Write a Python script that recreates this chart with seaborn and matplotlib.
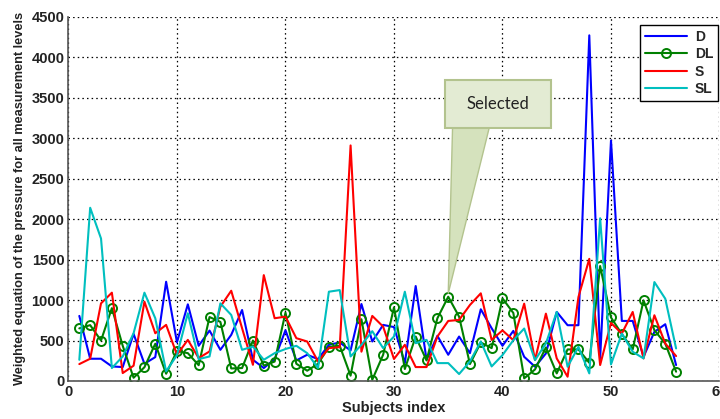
import matplotlib
matplotlib.use("Agg")
import matplotlib.pyplot as plt
import seaborn as sns
import numpy as np
from matplotlib.patches import Rectangle, Polygon

subjects = list(range(1, 57))

D = [804, 275, 275, 180, 172, 582, 213, 295, 1226, 478,
     947, 435, 623, 385, 570, 877, 262, 160, 270, 627,
     254, 324, 270, 447, 476, 377, 951, 488, 693, 666,
     221, 1173, 262, 558, 324, 549, 344, 886, 652, 435,
     619, 299, 176, 340, 853, 689, 689, 4270, 280, 2970,
     742, 742, 299, 607, 701, 197]

DL = [650, 690, 500, 900, 435, 40, 170, 460, 90, 370,
      344, 195, 790, 730, 155, 160, 500, 190, 240, 845,
      213, 127, 213, 420, 435, 66, 763, 16, 324, 910,
      148, 549, 254, 775, 1041, 795, 209, 476, 406, 1020,
      840, 33, 143, 414, 94, 390, 390, 225, 1420, 785,
      580, 390, 996, 627, 463, 115]

S = [209, 275, 959, 1091, 98, 189, 980, 590, 693, 324,
     508, 283, 365, 918, 1115, 652, 200, 1308, 775, 795,
     529, 488, 242, 406, 418, 2910, 362, 804, 672, 272,
     447, 172, 172, 549, 742, 754, 939, 1083, 508, 625,
     504, 955, 258, 832, 279, 53, 1037, 1509, 197, 717,
     586, 853, 279, 812, 463, 308]

SL = [262, 2140, 1760, 160, 303, 590, 1091, 775, 119, 320,
      836, 270, 303, 959, 816, 385, 426, 262, 344, 395,
      435, 344, 160, 1103, 1123, 303, 447, 615, 406, 550,
      1103, 467, 508, 221, 221, 86, 242, 488, 180, 320,
      504, 648, 258, 463, 853, 176, 422, 94, 2010, 205,
      586, 361, 279, 1222, 1017, 402]

series_names = ["D", "DL", "S", "SL"]
y_ticks = list(range(0, 5000, 500))
x_ticks = list(range(0, 70, 10))

sns.set_style("white")
plt.rcParams["font.family"] = ["Liberation Sans", "DejaVu Sans"]

fig = plt.figure(figsize=(7.2, 4.19), dpi=100)
ax = fig.add_axes([0.0951, 0.0907, 0.9042, 0.8694])

lw = 1.5
sns.lineplot(x=subjects, y=D, color="#0000ff", lw=lw, label="D", ax=ax)
sns.lineplot(x=subjects, y=DL, color="#008000", lw=lw, label="DL", ax=ax,
             marker="o", markersize=6.5, markerfacecolor="none",
             markeredgecolor="#008000", markeredgewidth=1.4)
sns.lineplot(x=subjects, y=S, color="#ff0000", lw=lw, label="S", ax=ax)
sns.lineplot(x=subjects, y=SL, color="#00bfbf", lw=lw, label="SL", ax=ax)

ax.set_xlim(0, 60)
ax.set_ylim(0, 4500)
ax.set_xticks(x_ticks)
ax.set_yticks(y_ticks)
ax.grid(True, color="black", linestyle=(0, (1.2, 2.5)), linewidth=0.9)
ax.set_axisbelow(True)

for side in ["top", "right"]:
    ax.spines[side].set_visible(False)
for side in ["left", "bottom"]:
    ax.spines[side].set_color("#555555")
    ax.spines[side].set_linewidth(1.2)

ax.tick_params(axis="both", direction="in", length=3, width=0.8,
               labelsize=10.5, pad=3, colors="#222222")
for lab in ax.get_xticklabels() + ax.get_yticklabels():
    lab.set_fontweight("bold")
    lab.set_color("#222222")

ax.set_xlabel("Subjects index", fontsize=10.5, fontweight="bold", labelpad=1, color="#222222")
ax.set_ylabel("Weighted equation of the pressure for all measurement levels",
              fontsize=9.2, fontweight="bold", labelpad=4, color="#222222")

leg = ax.legend(loc="upper right", bbox_to_anchor=(0.998, 0.978), borderaxespad=0,
                fancybox=False, framealpha=1, edgecolor="black",
                prop={"weight": "bold", "size": 10}, handlelength=3.0,
                borderpad=0.35, labelspacing=0.25, handletextpad=0.6)
leg.get_frame().set_linewidth(1.0)

# Callout annotation "Selected"
box_fc = "#e3ebd3"
box_ec = "#b3c38e"
tail = Polygon([(35.4, 3140), (38.8, 3140), (35.0, 1080)], closed=True,
               facecolor="#d5e2bd", edgecolor=box_ec, lw=1.0, zorder=5)
ax.add_patch(tail)
rect = Rectangle((34.7, 3125), 9.8, 590, facecolor=box_fc, edgecolor=box_ec,
                 lw=1.5, zorder=6)
ax.add_patch(rect)
ax.text(39.6, 3420, "Selected", ha="center", va="center", fontsize=12,
        family=["Lato", "DejaVu Sans"], color="#222222", zorder=7)

fig.savefig("out.png", dpi=100)
